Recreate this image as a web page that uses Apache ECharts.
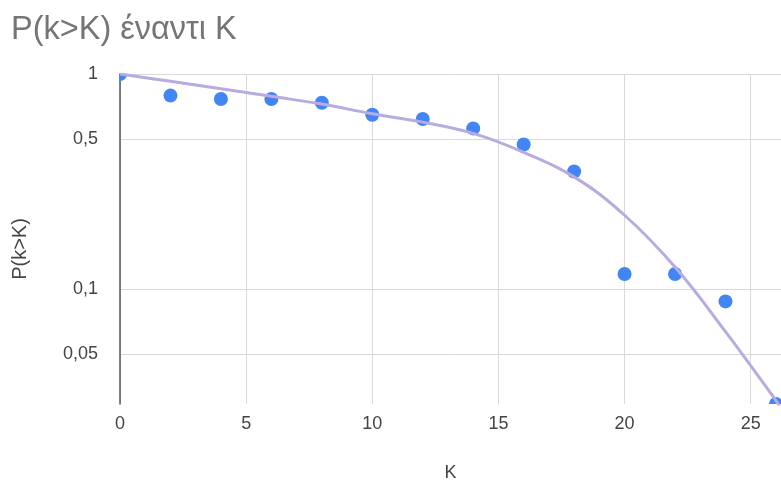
<!DOCTYPE html>
<html>
<head>
<meta charset="utf-8">
<script src="https://cdn.jsdelivr.net/npm/echarts@6/dist/echarts.min.js"></script>
<style>
html,body{margin:0;padding:0;background:#fff;}
#chart{width:781px;height:484px;}
</style>
</head>
<body>
<div id="chart"></div>
<script>
// ---- data ----
const titleText = 'P(k>K) έναντι K';
const xName = 'K';
const yName = 'P(k>K)';
const K = [0, 2, 4, 6, 8, 10, 12, 14, 16, 18, 20, 22, 24, 26];
const P = [1, 0.794, 0.765, 0.765, 0.735, 0.647, 0.618, 0.559, 0.471, 0.353, 0.118, 0.118, 0.088, 0.0294];
const trendK = [0, 2, 4, 6, 8, 10, 12, 14, 16, 18, 20, 22, 24, 26, 26.2];
const trendP = [1.0, 0.925, 0.855, 0.788, 0.725, 0.654, 0.598, 0.530, 0.433, 0.333, 0.221, 0.127, 0.0637, 0.0305, 0.028];
const yTicks = [0.05, 0.1, 0.5, 1];
const xMin = 0, xMax = 26.2, xStep = 5;
const yMin = 0.0294, yMax = 1;

const font = '"Liberation Sans", Arial, sans-serif';
const chart = echarts.init(document.getElementById('chart'));
chart.setOption({
  animation: false,
  backgroundColor: '#ffffff',
  title: {
    text: titleText, left: 6, top: 9,
    textStyle: {color: '#757575', fontSize: 32.5, fontWeight: 'normal', fontFamily: font}
  },
  grid: {left: 120, right: 0, top: 74, bottom: 80, outerBoundsMode: 'none', containLabel: false},
  xAxis: {
    type: 'value', min: xMin, max: xMax, interval: xStep,
    name: xName, nameLocation: 'middle', nameGap: 60,
    nameTextStyle: {color: '#444', fontSize: 18, fontFamily: font},
    axisLine: {show: false}, axisTick: {show: false},
    axisLabel: {color: '#444', fontSize: 18, fontFamily: font, margin: 11,
      formatter: v => (Math.abs(v % xStep) < 1e-9 ? String(v) : '')},
    splitLine: {lineStyle: {color: '#d9d9d9', width: 1}}
  },
  yAxis: {
    type: 'log', logBase: 10, min: yMin, max: yMax,
    name: yName, nameLocation: 'middle', nameGap: 90,
    nameTextStyle: {color: '#444', fontSize: 20, fontFamily: font, padding: [0, 20, 0, 0]},
    axisLine: {show: true, onZero: false, lineStyle: {color: '#555', width: 1.5}},
    axisTick: {show: false, customValues: yTicks},
    axisLabel: {customValues: yTicks, color: '#444', fontSize: 18, fontFamily: font, margin: 22,
      formatter: v => String(+v.toPrecision(6)).replace('.', ',')},
    splitLine: {show: true, lineStyle: {color: '#d9d9d9', width: 1}}
  },
  series: [
    {
      type: 'custom', clip: true, z: 2,
      data: K.map((k, i) => [k, P[i]]),
      renderItem: (params, api) => {
        const p = api.coord([api.value(0), api.value(1)]);
        return {type: 'circle', shape: {cx: p[0], cy: p[1], r: 7}, style: {fill: '#4285F4'}};
      }
    },
    {
      type: 'line', z: 3, smooth: 0.4, showSymbol: false, clip: true,
      data: trendK.map((k, i) => [k, trendP[i]]),
      lineStyle: {color: '#b9abe0', width: 3}
    }
  ]
});
</script>
</body>
</html>
